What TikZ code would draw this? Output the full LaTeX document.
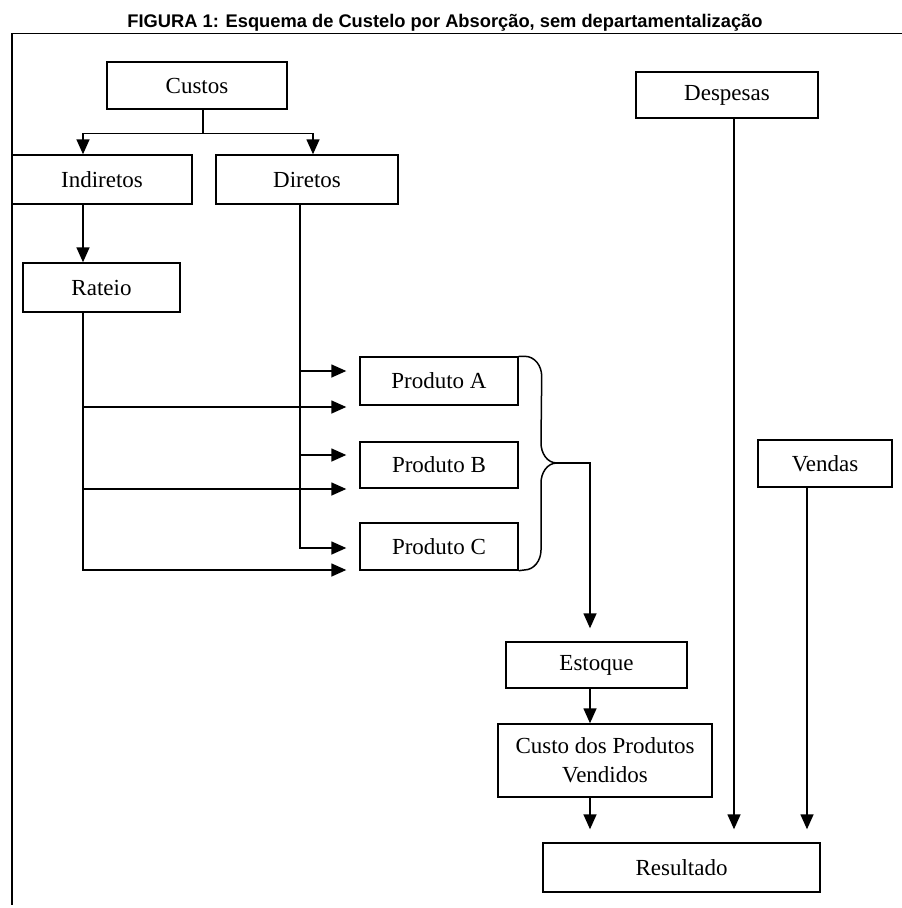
\documentclass[tikz,border=0pt]{standalone}
\usepackage{fontspec}
\setmainfont{Liberation Serif}
\newfontfamily\titlefont{Liberation Sans}
\usetikzlibrary{arrows.meta, positioning}

\begin{document}
\begin{tikzpicture}[
    x=1pt, y=-1pt,
    font=\fontsize{23}{29}\selectfont,
    box/.style={draw, line width=1.4pt, inner sep=0pt, minimum height=48pt, align=center},
    conn/.style={line width=1.5pt},
    arrow/.style={conn, -{Triangle[length=15pt, width=13pt]}},
    gap/.style={shorten >=13pt}
]
\useasboundingbox (0,0) rectangle (902,908);

\node[font=\titlefont\bfseries\fontsize{18.3}{21}\selectfont, anchor=base] (title) at (445,27)
  {FIGURA 1: Esquema de Custelo por Absorção, sem departamentalização};
\draw[line width=1pt] (902,33) -- (12,33);
\draw[line width=2.5pt] (12,33) -- (12,905);

\node[box, minimum width=180pt, minimum height=47pt] (custos) at (197,85.5) {Custos};
\node[box, minimum width=180pt, minimum height=49pt] (indiretos) at (102,179.5) {Indiretos};
\node[box, minimum width=182pt, minimum height=49pt] (diretos) at (307,179.5) {Diretos};
\node[box, minimum width=157pt, minimum height=49pt] (rateio) at (101.5,287.5) {Rateio};
\node[box, minimum width=158pt] (prodA) at (439,381) {Produto A};
\node[box, minimum width=158pt, minimum height=46pt] (prodB) at (439,465) {Produto B};
\node[box, minimum width=158pt, minimum height=47pt] (prodC) at (439,546.5) {Produto C};
\node[box, minimum width=181pt, minimum height=46pt] (estoque) at (596.5,665) {Estoque};
\node[box, minimum width=214pt, minimum height=73pt] (cpv) at (605,760.5) {Custo dos Produtos\\Vendidos};
\node[box, minimum width=277pt, minimum height=49pt] (resultado) at (681.5,867.5) {Resultado};
\node[box, minimum width=182pt, minimum height=46pt] (despesas) at (727,95) {Despesas};
\node[box, minimum width=134pt, minimum height=47pt] (vendas) at (825,463.5) {Vendas};

% custos split
\draw[arrow] ([xshift=6pt]custos.south) -- ++(0,24) -| ([xshift=-19pt]indiretos.north);
\draw[arrow] ([xshift=6pt]custos.south) -- ++(0,24) -| ([xshift=6pt]diretos.north);
\draw[arrow] ([xshift=-19pt]indiretos.south) -- ([xshift=-19pt]indiretos.south |- rateio.north);

% rateio and diretos to products
\foreach \p/\dy in {prodA/26, prodB/24, prodC/23.5}
  \draw[arrow, gap] ([xshift=-18.5pt]rateio.south) |- ([yshift=-\dy pt]\p.west);
\foreach \p/\dy in {prodA/10, prodB/10, prodC/-1.5}
  \draw[arrow, gap] ([xshift=-7pt]diretos.south) |- ([yshift=\dy pt]\p.west);

% brace
\coordinate (brace) at (557,463);
\draw[conn] (prodA.north east) -- ++(6,0) to[out=0, in=90] ++(17,20) -- (541,443)
  to[out=-90, in=180] (brace) to[out=180, in=90] (541,483) -- (541,550)
  to[out=-90, in=0] ++(-17,20) -- (prodC.south east);
\draw[arrow, gap] (brace) -| ([xshift=-6.5pt]estoque.north);

\draw[arrow] ([xshift=-6.5pt]estoque.south) -- ([xshift=-6.5pt]estoque.south |- cpv.north);
\draw[arrow, gap] ([xshift=-15pt]cpv.south) -- ([xshift=-15pt]cpv.south |- resultado.north);
\draw[arrow, gap] ([xshift=7pt]despesas.south) -- ([xshift=7pt]despesas.south |- resultado.north);
\draw[arrow, gap] ([xshift=-18pt]vendas.south) -- ([xshift=-18pt]vendas.south |- resultado.north);

\end{tikzpicture}
\end{document}
